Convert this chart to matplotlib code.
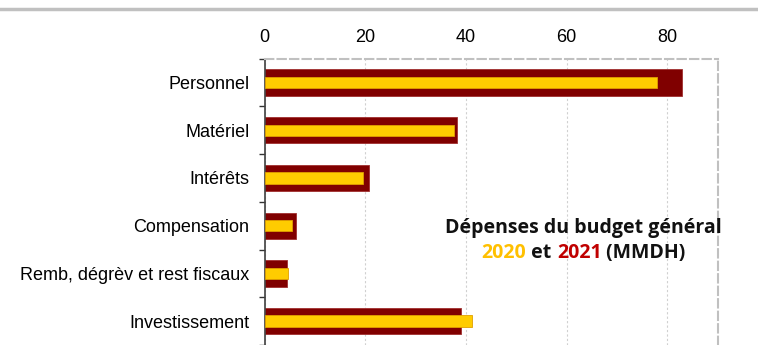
import matplotlib
matplotlib.use("Agg")
import matplotlib.pyplot as plt
import numpy as np
from matplotlib.lines import Line2D

categories = ["Personnel", "Matériel", "Intérêts", "Compensation",
              "Remb, dégrèv et rest fiscaux", "Investissement"]
vals_2021 = [82.9, 38.2, 20.7, 6.3, 4.4, 39.1]
vals_2020 = [78.0, 37.7, 19.5, 5.5, 4.75, 41.1]
xticks = [0, 20, 40, 60, 80]

fig = plt.figure(figsize=(7.58, 3.45), dpi=100)
ax = fig.add_axes([0.349, 0.0, 0.598, 0.830])

y = np.arange(len(categories))
ax.barh(y, vals_2021, height=0.55, color="#800000", edgecolor="#a03030", linewidth=0.6, zorder=2)
ax.barh(y, vals_2020, height=0.24, color="#FFCC00", edgecolor="#e0a000", linewidth=0.6, zorder=3)

ax.set_ylim(len(categories) - 0.5, -0.5)
ax.set_xlim(0, 90)
ax.set_yticks(y)
ax.set_yticklabels(categories, fontsize=13, family="Liberation Sans")
ax.set_yticks(np.arange(len(categories) + 1) - 0.5, minor=True)
ax.tick_params(axis="y", which="major", length=0, pad=11)
ax.tick_params(axis="y", which="minor", length=4, width=1, color="#333333")

ax.xaxis.tick_top()
ax.set_xticks(xticks)
ax.set_xticklabels([str(v) for v in xticks], fontsize=13, family="Liberation Sans")
ax.tick_params(axis="x", length=0, pad=9)
ax.grid(axis="x", color="#d0d0d0", linestyle=(0, (2, 2)), linewidth=0.8, zorder=0)

ax.spines["left"].set_color("#404040")
ax.spines["left"].set_linewidth(1.2)
for s in ["top", "right"]:
    ax.spines[s].set_color("#c0c0c0")
    ax.spines[s].set_linestyle((0, (4, 2)))
    ax.spines[s].set_linewidth(1.5)
ax.spines["bottom"].set_visible(False)

# Title block
fs = 14
cx = 0.770
fig.text(cx, 0.339, "Dépenses du budget général",
         ha="center", va="center", fontsize=fs, fontweight="bold", family="Open Sans", color="#111111")
parts = [("2020", "#FFC000"), (" et ", "#111111"), ("2021", "#C00000"), (" (MMDH)", "#111111")]
fig.canvas.draw()
r = fig.canvas.get_renderer()
widths = []
for s, c in parts:
    tt = fig.text(0, 0, s, fontsize=fs, fontweight="bold", family="Open Sans")
    widths.append(tt.get_window_extent(r).width)
    tt.remove()
total = sum(widths)
x0 = cx * 758 - total / 2
for (s, c), w in zip(parts, widths):
    fig.text(x0 / 758, 0.267, s, fontsize=fs, fontweight="bold", family="Open Sans",
             color=c, ha="left", va="center")
    x0 += w

# gray line at top
fig.add_artist(Line2D([0, 1], [0.975, 0.975], color="#c0c0c0", linewidth=2.5, transform=fig.transFigure))

fig.savefig("out.png", dpi=100)
